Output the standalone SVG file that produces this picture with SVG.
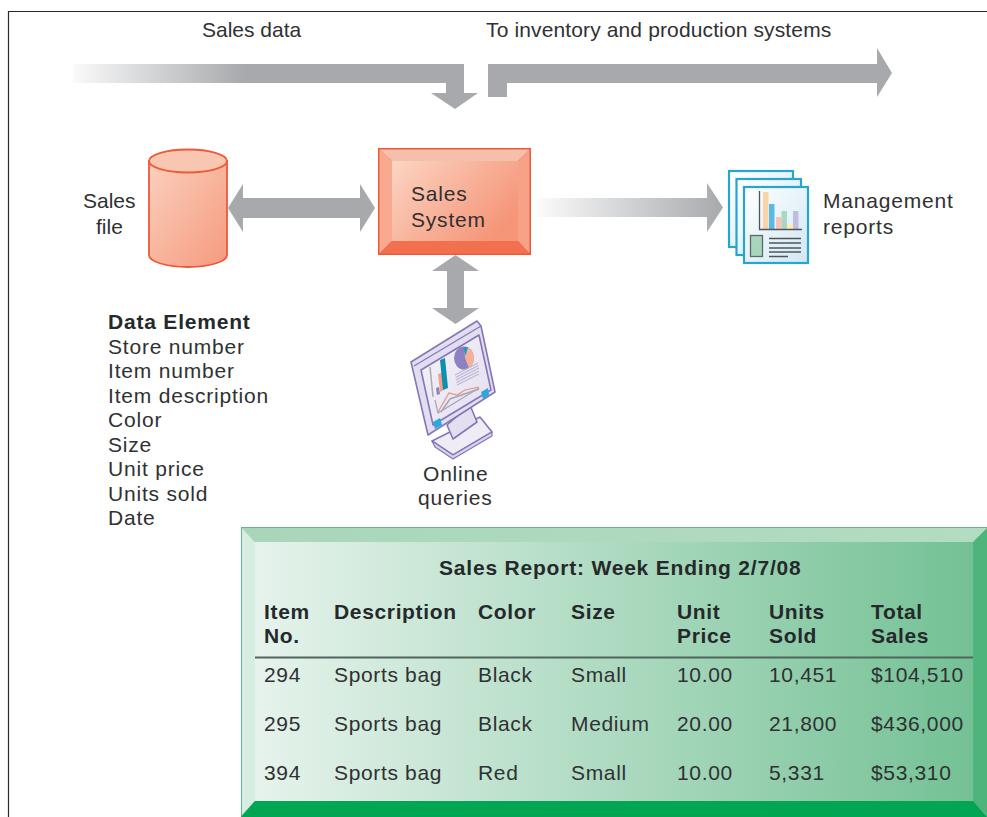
<svg xmlns="http://www.w3.org/2000/svg" width="987" height="817" viewBox="0 0 987 817">
<defs>
<linearGradient id="fadeL" gradientUnits="userSpaceOnUse" x1="537" x2="723" y1="0" y2="0"><stop offset="0" stop-color="#a7a9ac" stop-opacity="0.05"/><stop offset="1" stop-color="#a7a9ac"/></linearGradient>
<linearGradient id="fadeT" gradientUnits="userSpaceOnUse" x1="73" x2="245" y1="0" y2="0"><stop offset="0" stop-color="#a7a9ac" stop-opacity="0.06"/><stop offset="1" stop-color="#a7a9ac"/></linearGradient>
<linearGradient id="red" x1="0" y1="0" x2="1" y2="0.6"><stop offset="0" stop-color="#fcd5c3"/><stop offset="1" stop-color="#f59679"/></linearGradient>
<linearGradient id="cyl" x1="0" y1="0" x2="1" y2="1"><stop offset="0" stop-color="#fbd0bd"/><stop offset="1" stop-color="#f59a7e"/></linearGradient>
<linearGradient id="green" x1="0" x2="1" y1="0" y2="0"><stop offset="0" stop-color="#e6f3ec"/><stop offset="1" stop-color="#74c195"/></linearGradient>
<linearGradient id="greenTop" x1="0" x2="1" y1="0" y2="0"><stop offset="0" stop-color="#a9d6ba"/><stop offset="1" stop-color="#b3dcc3"/></linearGradient>
<linearGradient id="paper" x1="0" y1="0" x2="1" y2="1"><stop offset="0" stop-color="#ffffff"/><stop offset="1" stop-color="#cfe8f5"/></linearGradient>
<linearGradient id="screen" x1="0" y1="0" x2="1" y2="1"><stop offset="0" stop-color="#f6f3fa"/><stop offset="1" stop-color="#e2ddef"/></linearGradient>
</defs>
<style>
text{font-family:"Liberation Sans",Arial,sans-serif;font-size:21px;fill:#2f3133;letter-spacing:.8px}
.b{font-weight:bold;fill:#26292b}
.n{letter-spacing:0}
.s{letter-spacing:.13px}
.t{letter-spacing:.65px}
.sheet{fill:url(#paper);stroke:#27a5d0;stroke-width:2.200}
.mon{stroke:#8676b8;stroke-width:1.600;stroke-linejoin:round}
</style>
<rect width="987" height="817" fill="#fff"/>
<path d="M8.500 817V11.500H987" fill="none" stroke="#2a2a2a" stroke-width="1.200"/>
<g id="connectors">
<path fill="url(#fadeT)" d="M73 64H464V93H478L455 109L431 93H446V83H73Z"/>
<path fill="#a7a9ac" d="M488 97V64H877V48L892 73L877 97V83H507V97Z"/>
<path fill="#a7a9ac" d="M228 208L243 184V198H360V184L375 208L360 232V218H243V232Z"/>
<path fill="url(#fadeL)" d="M537 198H707V183L723 207.500L707 232V217H537Z"/>
<path fill="#a7a9ac" d="M455.500 255L479 271H464V308H479L455.500 324L432 308H447V271H432Z"/>
</g>
<g id="label-sales-data"><text class="n" x="202" y="37">Sales data</text></g>
<g id="label-inventory"><text class="s" x="486" y="37">To inventory and production systems</text></g>
<g id="sales-file">
<path d="M149 161V255A39 12 0 0 0 227 255V161Z" fill="url(#cyl)" stroke="#f0583a" stroke-width="1.800"/>
<ellipse cx="188" cy="161" rx="39" ry="11.500" fill="#f9c6b1" stroke="#f0583a" stroke-width="1.800"/>
<text class="n" x="83" y="208">Sales</text>
<text class="n" x="96" y="234">file</text>
</g>
<g id="sales-system">
<rect x="378" y="148" width="153" height="107" fill="#f0583a"/>
<path d="M379.500 149.500H529.500L518 161H392Z" fill="#f5c0ab"/>
<path d="M379.500 149.500L392 161V241L379.500 253.500Z" fill="#f8a98f"/>
<path d="M529.500 149.500L518 161V241L529.500 253.500Z" fill="#f7a287"/>
<path d="M379.500 253.500L392 241H518L529.500 253.500Z" fill="#f3704f"/>
<rect x="392" y="161" width="126" height="80" fill="url(#red)"/>
<text x="411" y="201">Sales</text>
<text x="411" y="227">System</text>
</g>
<g id="management-reports">
<rect class="sheet" x="729" y="171" width="64" height="76"/>
<rect class="sheet" x="736.500" y="179" width="64.500" height="76"/>
<rect class="sheet" x="744" y="187" width="64" height="76"/>
<rect x="763" y="192" width="5.500" height="37" fill="#fbd3a8"/>
<rect x="769" y="204" width="5.500" height="25" fill="#58bbe6"/>
<rect x="776" y="217" width="5.500" height="12" fill="#f9c4b8"/>
<rect x="781.500" y="211" width="5.500" height="18" fill="#a9d8c2"/>
<rect x="787" y="224" width="5.500" height="5" fill="#fdeeb0"/>
<rect x="793" y="211" width="5.500" height="18" fill="#c4bce0"/>
<path d="M759.500 191V229.500H802" fill="none" stroke="#555" stroke-width="1.300"/>
<rect x="750.500" y="235.500" width="12" height="21" fill="#a8d5bd" stroke="#5e6a66" stroke-width="1.300"/>
<path d="M769 238.500H801M769 243H801M769 248H801M769 252H801M769 256.500H788" stroke="#555" stroke-width="1.300" fill="none"/>
<text x="823" y="208">Management</text>
<text x="823" y="234">reports</text>
</g>
<g id="online-queries">
<path class="mon" fill="#efecf6" d="M432 441L480 417L492 432L453 455Z"/>
<path d="M432 441L435 447L453 459L492 436L492 432L453 455Z" fill="#d9d3ea" stroke="#8676b8" stroke-width="1.200" stroke-linejoin="round"/>
<path class="mon" fill="#e4dff0" d="M447 425L470 405L477 422L453 439Z"/>
<path class="mon" fill="#e3deef" d="M411 362L477 321L481 326L495 392L428 435Z"/>
<path d="M414 366L481 326" stroke="#8676b8" stroke-width="1.200" fill="none"/>
<path class="mon" fill="url(#screen)" d="M421 370L479 335L491 390L433 425Z"/>
<path fill="#29a8dd" d="M433 422L440 418L442 425L435 429Z"/>
<path fill="#29a8dd" d="M481 392L488 388L489 395L483 399Z"/>
<path d="M430 367L433 397" stroke="#aaa" stroke-width="1.500" fill="none"/>
<path d="M436 388L439 387L440 394L437 395Z" fill="#8f80c0"/>
<path d="M438 374L442 373L444 390L440 392Z" fill="#f4a08c"/>
<path d="M440 360L445 358L448 388L443 390Z" fill="#0f8fb0"/>
<ellipse cx="464" cy="358" rx="10" ry="11.500" fill="#8f80c0"/>
<path d="M464 346.500A10 11.500 0 0 1 469 368L465 358Z" fill="#f7b09c"/>
<path d="M463 347h5l-2.500 9Z" fill="#1f9cc0"/>
<path d="M455 375L478 363M455.500 377.500L478.500 365.500M456 380L479 368M456.500 382.500L479 371M457 385L479 374" stroke="#bdb7ce" stroke-width="1.100" fill="none"/>
<path d="M435 400L438 413L479 388" stroke="#a9a4b8" stroke-width="1.200" fill="none"/>
<path d="M438 412L449 393L457 395L465 390L479 387" stroke="#e9957f" stroke-width="1.200" fill="none"/>
<path d="M441 412L450 399L479 389" stroke="#a9a4b8" stroke-width="1.500" fill="none"/>
<text x="423" y="481">Online</text>
<text x="418" y="505">queries</text>
</g>
<g id="data-element">
<text class="b" x="108" y="329">Data Element</text>
<text x="108" y="354">Store number</text>
<text x="108" y="378">Item number</text>
<text x="108" y="403">Item description</text>
<text x="108" y="427">Color</text>
<text x="108" y="452">Size</text>
<text x="108" y="476">Unit price</text>
<text x="108" y="501">Units sold</text>
<text x="108" y="525">Date</text>
</g>
<g id="sales-report">
<rect x="241" y="527" width="746" height="290" fill="#5cb98a"/>
<path d="M242 528H987V542H255Z" fill="url(#greenTop)"/>
<path d="M242 528L255 542V801L242 815Z" fill="#d8ede1"/>
<path d="M987 528L973 542V801L987 815Z" fill="#4fb47c"/>
<path d="M241 817L255 801H973L987 817Z" fill="#00a651"/>
<rect x="255" y="542" width="718" height="259" fill="url(#green)"/>
<path d="M255 657.500H973" stroke="#51655c" stroke-width="1.800"/>
<text class="b t" x="439" y="575" style="letter-spacing:.8px">Sales Report: Week Ending 2/7/08</text>
<text class="b t" x="264" y="619">Item</text><text class="b t" x="264" y="643">No.</text><text class="b t" x="334" y="619">Description</text><text class="b t" x="478" y="619">Color</text><text class="b t" x="571" y="619">Size</text><text class="b t" x="677" y="619">Unit</text><text class="b t" x="677" y="643">Price</text><text class="b t" x="769" y="619">Units</text><text class="b t" x="769" y="643">Sold</text><text class="b t" x="871" y="619">Total</text><text class="b t" x="871" y="643">Sales</text>
<text class="t" x="264" y="682">294</text><text class="t" x="334" y="682">Sports bag</text><text class="t" x="478" y="682">Black</text><text class="t" x="571" y="682">Small</text><text class="t" x="677" y="682">10.00</text><text class="t" x="769" y="682">10,451</text><text class="t" x="871" y="682">$104,510</text>
<text class="t" x="264" y="731">295</text><text class="t" x="334" y="731">Sports bag</text><text class="t" x="478" y="731">Black</text><text class="t" x="571" y="731">Medium</text><text class="t" x="677" y="731">20.00</text><text class="t" x="769" y="731">21,800</text><text class="t" x="871" y="731">$436,000</text>
<text class="t" x="264" y="780">394</text><text class="t" x="334" y="780">Sports bag</text><text class="t" x="478" y="780">Red</text><text class="t" x="571" y="780">Small</text><text class="t" x="677" y="780">10.00</text><text class="t" x="769" y="780">5,331</text><text class="t" x="871" y="780">$53,310</text>
</g>
</svg>
